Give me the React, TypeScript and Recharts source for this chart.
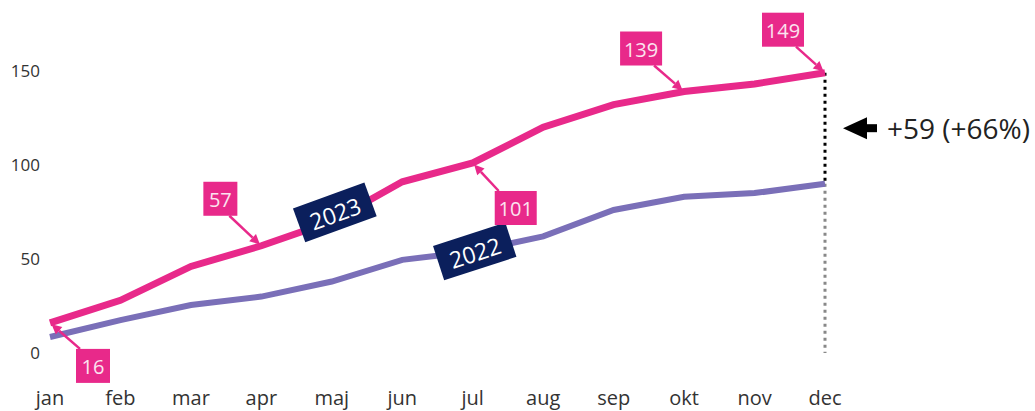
import React from "react";
import { LineChart, Line, XAxis, YAxis, LabelList, ReferenceLine, ReferenceDot } from "recharts";

const months = ["jan", "feb", "mar", "apr", "maj", "jun", "jul", "aug", "sep", "okt", "nov", "dec"];
const sales2023 = [16, 28, 46, 57, 70, 91, 101, 120, 132, 139, 143, 149];
const sales2022 = [8.5, 17.5, 25.5, 30, 38, 49.5, 54, 62, 76, 83, 85, 90];
const yTicks = [0, 50, 100, 150];
// index -> [dx, dy] of callout box centre relative to the point
const callouts2023: Record<number, [number, number]> = {
  0: [43, 43],
  3: [-41, -47],
  6: [43, 45],
  9: [-43, -43],
  11: [-42, -43],
};
const seriesLabels = [
  { name: "2023", month: "maj", value: 70, angle: -20, dx: 3, dy: -9 },
  { name: "2022", month: "jul", value: 54, angle: -18, dx: 2, dy: 0 },
];
const diffText = "+59 (+66%)";
const diffMid = (149 + 90) / 2;

const PINK = "#e8298a";
const PURPLE = "#7a6fb8";
const NAVY = "#0b1f5c";
const FONT = "'Open Sans', sans-serif";

const data = months.map((m, i) => ({ month: m, y2023: sales2023[i], y2022: sales2022[i] }));

function Callout(props: any) {
  const { x, y, index, value } = props;
  const off = callouts2023[index];
  if (!off || x == null || y == null) return null;
  const cx = x + off[0];
  const cy = y + off[1];
  const label = String(value);
  const w = label.length >= 3 ? 42 : 34;
  const h = 34;
  const sx = cx + (off[0] > 0 ? -w / 2 + 4 : w / 2 - 8);
  const sy = cy + (off[1] > 0 ? -h / 2 : h / 2);
  const ang = Math.atan2(y - sy, x - sx);
  const tipX = x - Math.cos(ang) * 2;
  const tipY = y - Math.sin(ang) * 2;
  const hl = 10, hw = 5;
  const bx = tipX - Math.cos(ang) * hl;
  const by = tipY - Math.sin(ang) * hl;
  const px = -Math.sin(ang) * hw;
  const py = Math.cos(ang) * hw;
  return (
    <g>
      <line x1={sx} y1={sy} x2={bx} y2={by} stroke={PINK} strokeWidth={2.5} />
      <polygon points={`${tipX},${tipY} ${bx + px},${by + py} ${bx - px},${by - py}`} fill={PINK} />
      <rect x={cx - w / 2} y={cy - h / 2} width={w} height={h} fill={PINK} />
      <text x={cx} y={cy + 1} textAnchor="middle" dominantBaseline="central" fill="#fbe3ef" fontSize={20} fontFamily={FONT}>
        {label}
      </text>
    </g>
  );
}

function SeriesTag(props: any) {
  const { cx, cy, name, angle, dx, dy } = props;
  if (cx == null) return null;
  const x = cx + dx;
  const y = cy + dy;
  return (
    <g transform={`translate(${x},${y}) rotate(${angle})`}>
      <rect x={-38} y={-18} width={76} height={36} fill={NAVY} />
      <text x={0} y={1} textAnchor="middle" dominantBaseline="central" fill="#ffffff" fontSize={23} fontFamily={FONT}>
        {name}
      </text>
    </g>
  );
}

function DiffArrow(props: any) {
  const { cx, cy } = props;
  if (cx == null) return null;
  const tip = cx + 18;
  return (
    <g>
      <polygon points={`${tip},${cy} ${tip + 24},${cy - 11} ${tip + 24},${cy + 11}`} fill="#000" />
      <rect x={tip + 22} y={cy - 4} width={12} height={8} fill="#000" />
      <text x={tip + 44} y={cy} dominantBaseline="central" fill="#222" fontSize={28} fontFamily={FONT}>
        {diffText}
      </text>
    </g>
  );
}

export default function App() {
  return (
    <div style={{ position: "absolute", left: 0, top: 0, background: "#fff" }}>
      <LineChart width={1035} height={411} data={data} margin={{ top: 52, right: 210, bottom: 28, left: 0 }}>
        <XAxis
          dataKey="month"
          axisLine={false}
          tickLine={false}
          tickSize={0}
          tickMargin={38}
          height={30}
          interval={0}
          padding={{ left: 0, right: 0 }}
          tick={{ fill: "#333", fontSize: 20, fontFamily: FONT }}
        />
        <YAxis
          domain={[0, 160]}
          ticks={yTicks}
          axisLine={false}
          tickLine={false}
          tickSize={0}
          tickMargin={10}
          width={50}
          tick={{ fill: "#333", fontSize: 17, fontFamily: FONT }}
        />
        <ReferenceLine
          segment={[{ x: "dec", y: 90 }, { x: "dec", y: 0 }]}
          stroke="#888"
          strokeWidth={3}
          strokeDasharray="3 4"
        />
        <Line type="linear" dataKey="y2022" stroke={PURPLE} strokeWidth={6} dot={false} isAnimationActive={false} />
        <ReferenceLine
          segment={[{ x: "dec", y: 149 }, { x: "dec", y: 90 }]}
          stroke="#000"
          strokeWidth={3}
          strokeDasharray="3 4"
        />
        <Line type="linear" dataKey="y2023" stroke={PINK} strokeWidth={7} dot={false} isAnimationActive={false}>
          <LabelList dataKey="y2023" content={(p: any) => <Callout {...p} />} />
        </Line>
        {seriesLabels.map((s) => (
          <ReferenceDot
            key={s.name}
            x={s.month}
            y={s.value}
            r={0}
            shape={(p: any) => <SeriesTag {...p} name={s.name} angle={s.angle} dx={s.dx} dy={s.dy} />}
          />
        ))}
        <ReferenceDot x="dec" y={diffMid} r={0} shape={(p: any) => <DiffArrow {...p} />} />
      </LineChart>
    </div>
  );
}
